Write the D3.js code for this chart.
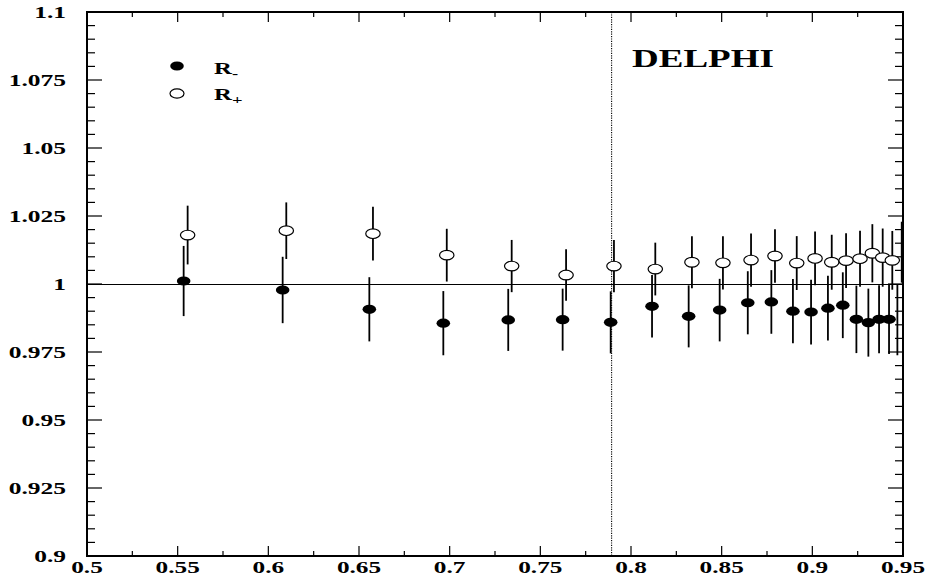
<!DOCTYPE html>
<html><head><meta charset="utf-8">
<script src="https://cdn.jsdelivr.net/npm/d3@7/dist/d3.min.js"></script>
<style>html,body{margin:0;padding:0;background:#fff;}</style>
</head><body>
<svg id="c" width="926" height="577"></svg>
<script>
// ---- data ----
const xMinus = [0.5533,0.6079,0.6557,0.6965,0.7323,0.7623,0.7888,0.8116,0.8318,0.8489,0.8644,0.8774,0.8893,0.8993,0.9086,0.9168,0.9243,0.9309,0.9368,0.9423];
const yMinus = [1.0011,0.9978,0.9907,0.9856,0.9868,0.9869,0.9859,0.9918,0.9881,0.9904,0.9931,0.9934,0.9900,0.9897,0.9911,0.9922,0.9870,0.9858,0.9870,0.9870];
const eMinus = [0.0129,0.0122,0.0118,0.0118,0.0114,0.0114,0.0114,0.0115,0.0114,0.0115,0.0116,0.0117,0.0118,0.0119,0.0119,0.0121,0.0124,0.0125,0.0125,0.0127];
const xPlus  = [0.5555,0.6099,0.6577,0.6984,0.7342,0.7642,0.7906,0.8134,0.8336,0.8507,0.8662,0.8794,0.8914,0.9015,0.9107,0.9186,0.9263,0.9331,0.9388,0.9441];
const yPlus  = [1.0180,1.0196,1.0185,1.0106,1.0066,1.0033,1.0066,1.0055,1.0080,1.0078,1.0088,1.0103,1.0077,1.0094,1.0080,1.0086,1.0093,1.0113,1.0097,1.0087];
const ePlus  = [0.0108,0.0104,0.0099,0.0097,0.0096,0.0095,0.0096,0.0097,0.0096,0.0098,0.0098,0.0098,0.0099,0.0099,0.0101,0.0101,0.0103,0.0107,0.0107,0.0108];
// error bars drawn without a marker at the right edge
const xBarOnly = [0.9469,0.9493];
const yBarOnly = [0.9869,1.0117];
const eBarOnly = [0.0131,0.0112];
const cutX = 0.7893;
const xTickLabels = ["0.5","0.55","0.6","0.65","0.7","0.75","0.8","0.85","0.9","0.95"];
const yTickLabels = ["0.9","0.925","0.95","0.975","1","1.025","1.05","1.075","1.1"];
const legendLabels = [{t:"R",s:"-"},{t:"R",s:"+"}];
const title = "DELPHI";

// ---- layout ----
const svg = d3.select("#c");
const L=87,R=903,T=12,B=556;
const x = d3.scaleLinear().domain([0.5,0.95]).range([L,R]);
const y = d3.scaleLinear().domain([0.9,1.1]).range([B,T]);
const FONT = "'Liberation Serif','Times New Roman',serif";

function stretchedText(g, px, py, txt, size, sx, anchor){
  return g.append("text")
    .attr("transform",`translate(${px},${py}) scale(${sx},1)`)
    .attr("text-anchor",anchor)
    .attr("font-family",FONT).attr("font-weight","bold").attr("font-size",size)
    .attr("fill","#000").text(txt);
}

// ticks
const xMajor = d3.range(0,10).map(i=>0.5+i*0.05);
const xMinor = d3.range(0,9).map(i=>0.525+i*0.05);
const yMajor = d3.range(0,9).map(i=>0.9+i*0.025);
const yMinor = d3.range(0,41).map(i=>0.9+i*0.005).filter((v,i)=>i%5!==0);
const tg = svg.append("g").attr("stroke","#000").attr("stroke-width",1.2);
function vt(v,len){ tg.append("line").attr("x1",x(v)).attr("x2",x(v)).attr("y1",B).attr("y2",B-len);
                    tg.append("line").attr("x1",x(v)).attr("x2",x(v)).attr("y1",T).attr("y2",T+len); }
function ht(v,len){ tg.append("line").attr("y1",y(v)).attr("y2",y(v)).attr("x1",L).attr("x2",L+len);
                    tg.append("line").attr("y1",y(v)).attr("y2",y(v)).attr("x1",R).attr("x2",R-len); }
xMajor.forEach(v=>vt(v,10)); xMinor.forEach(v=>vt(v,5));
yMajor.forEach(v=>ht(v,15)); yMinor.forEach(v=>ht(v,8));

// reference lines
svg.append("line").attr("x1",L).attr("x2",R).attr("y1",y(1)+0.5).attr("y2",y(1)+0.5)
  .attr("stroke","#000").attr("stroke-width",1);
svg.append("line").attr("x1",x(cutX)).attr("x2",x(cutX)).attr("y1",T).attr("y2",B)
  .attr("stroke","#000").attr("stroke-width",1.1).attr("stroke-dasharray","1.2,1.2");

// frame
svg.append("rect").attr("x",L).attr("y",T).attr("width",R-L).attr("height",B-T)
  .attr("fill","none").attr("stroke","#000").attr("stroke-width",2);

// tick labels
const lg = svg.append("g");
xTickLabels.forEach((t,i)=>stretchedText(lg, x(xMajor[i]), 573, t, 16, 1.58, "middle"));
yTickLabels.forEach((t,i)=>stretchedText(lg, 66, y(yMajor[i])+6, t, 17, 1.5, "end"));

// error bars
const eg = svg.append("g").attr("stroke","#000").attr("stroke-width",1.8);
function bars(xs,ys,es){ xs.forEach((v,i)=>eg.append("line")
  .attr("x1",x(v)).attr("x2",x(v)).attr("y1",y(ys[i]-es[i])).attr("y2",y(ys[i]+es[i]))); }
bars(xMinus,yMinus,eMinus); bars(xPlus,yPlus,ePlus); bars(xBarOnly,yBarOnly,eBarOnly);

// markers
svg.append("g").selectAll("ellipse").data(xMinus).join("ellipse")
  .attr("cx",d=>x(d)).attr("cy",(d,i)=>y(yMinus[i])).attr("rx",6.8).attr("ry",4.6).attr("fill","#000");
svg.append("g").selectAll("ellipse").data(xPlus).join("ellipse")
  .attr("cx",d=>x(d)).attr("cy",(d,i)=>y(yPlus[i])).attr("rx",7.2).attr("ry",4.8)
  .attr("fill","#fff").attr("stroke","#000").attr("stroke-width",1.2);

// legend
svg.append("ellipse").attr("cx",177).attr("cy",66).attr("rx",6.8).attr("ry",4.6).attr("fill","#000");
svg.append("ellipse").attr("cx",177).attr("cy",93.5).attr("rx",7).attr("ry",4.6)
  .attr("fill","#fff").attr("stroke","#000").attr("stroke-width",1.2);
const legY=[73.5,100];
legendLabels.forEach((d,i)=>{
  const t = svg.append("text").attr("transform",`translate(214,${legY[i]}) scale(1.55,1)`)
    .attr("font-family",FONT).attr("font-weight","bold").attr("font-size",16).attr("fill","#000");
  t.append("tspan").text(d.t);
  t.append("tspan").attr("font-size",12).attr("dy",i===0?4:3.5).text(d.s);
});

// title
stretchedText(svg, 632, 66.7, title, 25, 1.48, "start");
</script>
</body></html>
